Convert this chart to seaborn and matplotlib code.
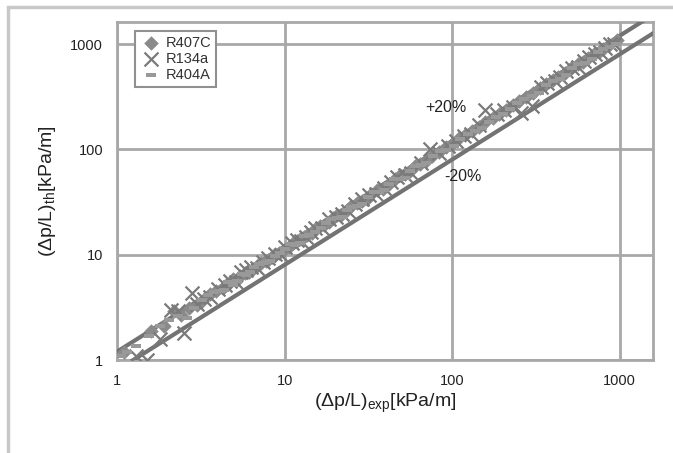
import matplotlib
matplotlib.use('Agg')
import matplotlib.pyplot as plt
import seaborn as sns
from matplotlib.patches import Rectangle

# data
r407c_x = [1.1, 1.6, 2.2, 2.4, 3.2, 3.6, 4.3, 4.9, 5.4, 6.1, 6.9, 7.7, 8.4, 9.3, 10.6, 11.8, 13.0, 14.5,
           16.2, 18.3, 20.5, 23.5, 27.0, 31.0, 35.5, 42.0, 49.0, 56.0, 64.0, 76.0, 92.0, 110.0, 132.0,
           158.0, 190.0, 230.0, 275.0, 335.0, 400.0, 470.0, 560.0, 650.0, 760.0, 860.0, 960.0,
           1.9, 2.7, 3.0, 3.9, 4.5, 5.1, 5.8, 6.5, 7.2, 8.0, 8.8, 9.8, 11.2, 12.4, 13.7, 15.3, 17.2,
           19.4, 21.8, 25.0, 29.0, 33.0, 38.5, 45.5, 52.0, 60.0, 70.0, 83.0, 100.0, 120.0, 145.0,
           175.0, 210.0, 250.0, 305.0, 365.0, 430.0, 510.0, 600.0, 700.0, 800.0]
r407c_y = [1.2, 1.9, 2.9, 2.7, 3.6, 4.2, 4.8, 5.9, 6.3, 6.9, 7.9, 8.8, 9.6, 10.4, 11.8, 13.6, 14.8, 16.2,
           18.9, 20.5, 23.8, 26.5, 31.2, 34.0, 41.0, 47.0, 57.0, 63.0, 73.0, 86.0, 105.0, 128.0, 150.0,
           182.0, 215.0, 262.0, 315.0, 380.0, 460.0, 535.0, 640.0, 740.0, 860.0, 980.0, 1090.0,
           2.1, 3.1, 3.3, 4.5, 5.1, 5.6, 6.7, 7.3, 8.3, 8.9, 10.1, 10.9, 12.8, 14.1, 15.4, 17.8, 19.1,
           22.5, 24.0, 28.9, 32.1, 38.0, 42.5, 52.0, 58.0, 69.0, 78.0, 95.0, 112.0, 138.0, 162.0,
           200.0, 236.0, 290.0, 340.0, 420.0, 485.0, 590.0, 675.0, 810.0, 900.0]

r134a_x = [1.3, 1.5, 2.1, 2.3, 2.5, 2.8, 3.3, 4.0, 4.7, 5.5, 6.3, 7.4, 8.8, 10.1, 11.9, 13.4, 15.2, 18.5,
           22.0, 26.5, 32.0, 39.0, 47.0, 57.0, 74.0, 95.0, 118.0, 145.0, 158.0, 205.0, 258.0, 300.0,
           370.0, 440.0, 520.0, 610.0, 710.0, 820.0, 920.0,
           1.8, 3.0, 3.6, 4.4, 5.1, 5.9, 6.8, 8.0, 9.5, 11.0, 12.6, 14.3, 16.8, 20.2, 24.0, 29.0, 35.0,
           43.0, 52.0, 65.0, 84.0, 105.0, 130.0, 185.0, 230.0, 340.0, 410.0, 480.0, 560.0, 660.0,
           760.0, 870.0]
r134a_y = [1.1, 1.0, 3.0, 2.9, 1.8, 4.3, 3.8, 4.7, 5.6, 6.9, 7.6, 8.5, 10.2, 11.9, 13.7, 14.6, 17.8, 21.9,
           24.5, 30.5, 36.5, 43.0, 55.0, 60.0, 100.0, 108.0, 135.0, 170.0, 237.0, 235.0, 223.0, 260.0,
           430.0, 490.0, 590.0, 690.0, 800.0, 920.0, 1000.0,
           1.6, 3.4, 4.0, 5.1, 5.5, 7.1, 7.5, 9.3, 10.0, 12.8, 13.6, 16.4, 18.0, 23.0, 26.0, 33.5, 38.0,
           49.0, 57.0, 74.0, 92.0, 120.0, 140.0, 215.0, 250.0, 390.0, 445.0, 560.0, 610.0, 760.0,
           840.0, 1010.0]

r404a_x = [1.05, 1.3, 1.8, 2.3, 2.6, 2.9, 3.5, 4.1, 4.6, 5.2, 5.9, 6.6, 7.4, 8.2, 9.4, 10.8, 12.3, 14.0,
           16.5, 19.0, 22.0, 25.0, 29.0, 34.0, 39.0, 45.0, 52.0, 60.0, 70.0, 85.0, 102.0, 125.0, 150.0,
           182.0, 220.0, 270.0, 330.0, 400.0, 480.0, 560.0, 680.0, 800.0, 950.0,
           1.15, 1.55, 2.05, 3.2, 3.8, 4.35, 4.9, 5.55, 6.25, 7.0, 7.8, 8.8, 10.1, 11.5, 13.1, 15.2,
           17.7, 20.5, 23.5, 27.0, 31.5, 36.5, 42.0, 48.5, 56.0, 65.0, 77.0, 92.0, 112.0, 137.0, 165.0,
           200.0, 245.0, 300.0, 365.0, 440.0, 520.0, 620.0, 740.0, 870.0]
r404a_y = [1.1, 1.35, 2.1, 2.6, 2.5, 3.1, 4.1, 4.5, 5.5, 5.6, 6.4, 7.7, 8.3, 8.8, 10.3, 12.7, 13.0, 15.5,
           18.0, 22.0, 23.0, 28.5, 30.5, 39.0, 41.0, 52.0, 54.0, 70.0, 75.0, 97.0, 108.0, 140.0, 158.0,
           205.0, 240.0, 300.0, 345.0, 450.0, 510.0, 640.0, 720.0, 900.0, 1000.0,
           1.2, 1.7, 2.4, 3.7, 4.4, 4.6, 5.2, 6.5, 6.8, 8.1, 8.5, 9.8, 11.4, 12.3, 14.9, 16.6,
           19.8, 22.2, 26.5, 29.0, 35.5, 39.0, 47.0, 52.0, 62.0, 71.0, 86.0, 99.0, 125.0, 148.0, 182.0,
           218.0, 275.0, 320.0, 410.0, 470.0, 590.0, 660.0, 840.0, 940.0]

# +/-20% band
band_x = [1, 1600]
plus20_y = [1.2, 1920]
minus20_y = [0.8, 1280]

ticks = [1, 10, 100, 1000]
tick_labels = ['1', '10', '100', '1000']

sns.set_style('white')
plt.rcParams['font.family'] = ['Liberation Sans', 'DejaVu Sans']
plt.rcParams['mathtext.fontset'] = 'custom'
plt.rcParams['mathtext.rm'] = 'Liberation Sans'
plt.rcParams['mathtext.it'] = 'Liberation Sans:italic'

fig = plt.figure(figsize=(6.73, 4.53), dpi=100)
ax = fig.add_axes([117 / 673, 93 / 453, 536 / 673, 338 / 453])

grid_c = '#a8a8a8'
line_c = '#737373'

sns.lineplot(x=band_x, y=plus20_y, ax=ax, color=line_c, linewidth=3, zorder=3)
sns.lineplot(x=band_x, y=minus20_y, ax=ax, color=line_c, linewidth=3, zorder=3)

dash = [(-1, -0.45), (1, -0.45), (1, 0.45), (-1, 0.45), (-1, -0.45)]
sns.scatterplot(x=r407c_x, y=r407c_y, ax=ax, marker='D', s=55, color='#8a8a8a',
                edgecolor='#8a8a8a', linewidth=0, label='R407C', zorder=4)
sns.scatterplot(x=r134a_x, y=r134a_y, ax=ax, marker='x', s=100, color='#7a7a7a',
                linewidth=1.6, label='R134a', zorder=4)
sns.scatterplot(x=r404a_x, y=r404a_y, ax=ax, marker=dash, s=60, color='#999999',
                edgecolor='#999999', linewidth=0, label='R404A', zorder=4)

ax.set_xscale('log')
ax.set_yscale('log')
ax.set_xlim(1, 1580)
ax.set_ylim(1, 1620)
ax.set_xticks(ticks)
ax.set_xticklabels(tick_labels)
ax.set_yticks(ticks)
ax.set_yticklabels(tick_labels)
ax.minorticks_off()
ax.grid(True, color=grid_c, linewidth=2)
ax.set_axisbelow(True)
for sp in ax.spines.values():
    sp.set_color(grid_c)
    sp.set_linewidth(2)
ax.tick_params(axis='both', which='major', direction='out', length=5, width=2,
               color=grid_c, labelsize=10.5, labelcolor='#222222', pad=5)

ax.set_xlabel('(Δp/L)$_{\\mathrm{exp}}$[kPa/m]', fontsize=14, color='#222222', labelpad=3)
ax.set_ylabel('(Δp/L)$_{\\mathrm{th}}$[kPa/m]', fontsize=14, color='#222222', labelpad=9)

ax.text(0.575, 0.735, '+20%', transform=ax.transAxes, fontsize=11.5, color='#222222')
ax.text(0.61, 0.53, '-20%', transform=ax.transAxes, fontsize=11.5, color='#222222')

leg = ax.legend(loc='upper left', bbox_to_anchor=(0.034, 0.972), fontsize=10.5,
                frameon=True, fancybox=False, borderaxespad=0, handletextpad=0.3,
                borderpad=0.3, labelspacing=0.15, handlelength=1.5, framealpha=1)
leg.get_frame().set_edgecolor('#909090')
leg.get_frame().set_linewidth(1.5)
for t in leg.get_texts():
    t.set_color('#333333')

# outer frame of the picture
fig.patches.append(Rectangle((8 / 673, -0.05), 1.0, 1.05 - 7 / 453, transform=fig.transFigure,
                             fill=False, edgecolor='#c8c8c8', linewidth=2.5))

fig.savefig('out.png', dpi=100)
